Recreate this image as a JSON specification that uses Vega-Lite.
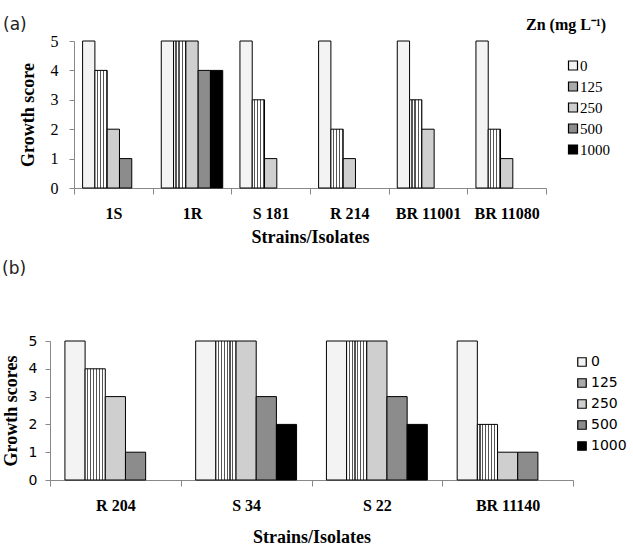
{
  "$schema": "https://vega.github.io/schema/vega-lite/v6.json",
  "background": "white",
  "padding": {"left": 2, "top": 16, "right": 5, "bottom": 5},
  "config": {"view": {"stroke": null}},
  "datasets": {
    "a": [
      {"strain": "1S", "zn": "0", "score": 5},
      {"strain": "1S", "zn": "125", "score": 4},
      {"strain": "1S", "zn": "250", "score": 2},
      {"strain": "1S", "zn": "500", "score": 1},
      {"strain": "1R", "zn": "0", "score": 5},
      {"strain": "1R", "zn": "125", "score": 5},
      {"strain": "1R", "zn": "250", "score": 5},
      {"strain": "1R", "zn": "500", "score": 4},
      {"strain": "1R", "zn": "1000", "score": 4},
      {"strain": "S 181", "zn": "0", "score": 5},
      {"strain": "S 181", "zn": "125", "score": 3},
      {"strain": "S 181", "zn": "250", "score": 1},
      {"strain": "R 214", "zn": "0", "score": 5},
      {"strain": "R 214", "zn": "125", "score": 2},
      {"strain": "R 214", "zn": "250", "score": 1},
      {"strain": "BR 11001", "zn": "0", "score": 5},
      {"strain": "BR 11001", "zn": "125", "score": 3},
      {"strain": "BR 11001", "zn": "250", "score": 2},
      {"strain": "BR 11080", "zn": "0", "score": 5},
      {"strain": "BR 11080", "zn": "125", "score": 2},
      {"strain": "BR 11080", "zn": "250", "score": 1}
    ],
    "b": [
      {"strain": "R 204", "zn": "0", "score": 5},
      {"strain": "R 204", "zn": "125", "score": 4},
      {"strain": "R 204", "zn": "250", "score": 3},
      {"strain": "R 204", "zn": "500", "score": 1},
      {"strain": "S 34", "zn": "0", "score": 5},
      {"strain": "S 34", "zn": "125", "score": 5},
      {"strain": "S 34", "zn": "250", "score": 5},
      {"strain": "S 34", "zn": "500", "score": 3},
      {"strain": "S 34", "zn": "1000", "score": 2},
      {"strain": "S 22", "zn": "0", "score": 5},
      {"strain": "S 22", "zn": "125", "score": 5},
      {"strain": "S 22", "zn": "250", "score": 5},
      {"strain": "S 22", "zn": "500", "score": 3},
      {"strain": "S 22", "zn": "1000", "score": 2},
      {"strain": "BR 11140", "zn": "0", "score": 5},
      {"strain": "BR 11140", "zn": "125", "score": 2},
      {"strain": "BR 11140", "zn": "250", "score": 1},
      {"strain": "BR 11140", "zn": "500", "score": 1}
    ]
  },
  "concat": [
    {
      "data": {"name": "a"},
      "width": 472,
      "height": 147,
      "title": {"text": "(a)", "anchor": "start", "frame": "bounds", "font": "DejaVu Sans", "fontSize": 17, "fontWeight": "normal", "color": "#222", "dx": -16, "offset": -17},
      "mark": {"type": "bar", "stroke": "black", "strokeWidth": 1},
      "encoding": {
        "x": {
          "field": "strain", "type": "nominal", "sort": null,
          "scale": {"paddingInner": 0, "paddingOuter": 0},
          "axis": {"title": "Strains/Isolates", "titleFont": "Liberation Serif", "titleFontSize": 18, "titleFontWeight": "bold", "titleColor": "black", "titlePadding": 7,
                   "labelFont": "Liberation Serif", "labelFontSize": 16, "labelFontWeight": "bold", "labelColor": "black", "labelAngle": 0, "labelPadding": 11,
                   "tickBand": "extent", "tickSize": 6, "tickColor": "#888", "domainColor": "#888"}
        },
        "xOffset": {"field": "zn", "type": "nominal", "scale": {"domain": ["0", "125", "250", "500", "1000"], "paddingInner": 0, "paddingOuter": 0.7}},
        "y": {
          "field": "score", "type": "quantitative",
          "scale": {"domain": [0, 5]},
          "axis": {"title": "Growth score", "titleFont": "Liberation Serif", "titleFontSize": 18, "titleFontWeight": "bold", "titleColor": "black", "titlePadding": 13,
                   "labelFont": "Liberation Serif", "labelFontSize": 16, "labelColor": "black", "labelPadding": 11,
                   "values": [0, 1, 2, 3, 4, 5], "domain": true, "domainColor": "#888", "ticks": true, "tickSize": 5, "tickColor": "#888", "grid": false}
        },
        "fill": {
          "condition": {"test": "datum.zn === '125'", "value": {"gradient": "linear", "x1": 0, "y1": 0, "x2": 1, "y2": 0, "stops": [
                                {"offset": 0, "color": "white"}, {"offset": 0.15, "color": "white"}, {"offset": 0.15, "color": "#555"}, {"offset": 0.25, "color": "#555"}, {"offset": 0.25, "color": "white"},
                                {"offset": 0.4, "color": "white"}, {"offset": 0.4, "color": "#555"}, {"offset": 0.5, "color": "#555"}, {"offset": 0.5, "color": "white"},
                                {"offset": 0.65, "color": "white"}, {"offset": 0.65, "color": "#555"}, {"offset": 0.75, "color": "#555"}, {"offset": 0.75, "color": "white"},
                                {"offset": 0.9, "color": "white"}, {"offset": 0.9, "color": "#555"}, {"offset": 1, "color": "#555"}]}},
          "field": "zn", "type": "nominal",
          "scale": {"domain": ["0", "125", "250", "500", "1000"], "range": ["#f3f3f3", "#aaaaaa", "#cfcfcf", "#8c8c8c", "black"]},
          "legend": {"title": "Zn (mg L⁻¹)", "orient": "none", "legendX": 452, "legendY": -24,
                     "titleFont": "Liberation Serif", "titleFontSize": 16, "titleFontWeight": "bold", "titleColor": "black", "titlePadding": 25,
                     "labelFont": "Liberation Serif", "labelFontSize": 15, "labelColor": "black", "labelOffset": 39,
                     "symbolType": "square", "symbolSize": 81, "symbolStrokeColor": "black", "symbolStrokeWidth": 1.2, "rowPadding": 5,
                     "encode": {"symbols": {"update": {"x": {"value": 47}}}}}
        }
      }
    },
    {
      "data": {"name": "b"},
      "width": 499,
      "height": 139,
      "title": {"text": "(b)", "anchor": "start", "frame": "bounds", "font": "DejaVu Sans", "fontSize": 17, "fontWeight": "normal", "color": "#222", "offset": 56},
      "mark": {"type": "bar", "stroke": "black", "strokeWidth": 1},
      "encoding": {
        "x": {
          "field": "strain", "type": "nominal", "sort": null,
          "scale": {"paddingInner": 0, "paddingOuter": 0, "range": [-24, 499]},
          "axis": {"title": "Strains/Isolates", "titleFont": "Liberation Serif", "titleFontSize": 18, "titleFontWeight": "bold", "titleColor": "black", "titlePadding": 15,
                   "labelFont": "Liberation Serif", "labelFontSize": 16, "labelFontWeight": "bold", "labelColor": "black", "labelAngle": 0, "labelPadding": 11,
                   "tickBand": "extent", "tickSize": 6, "tickColor": "#888", "domainColor": "#888"}
        },
        "xOffset": {"field": "zn", "type": "nominal", "scale": {"domain": ["0", "125", "250", "500", "1000"], "paddingInner": 0, "paddingOuter": 0.74}},
        "y": {
          "field": "score", "type": "quantitative",
          "scale": {"domain": [0, 5]},
          "axis": {"title": "Growth scores", "titleFont": "Liberation Serif", "titleFontSize": 18, "titleFontWeight": "bold", "titleColor": "black", "titlePadding": 8,
                   "labelFont": "DejaVu Sans", "labelFontSize": 14, "labelColor": "black", "labelPadding": 8, "offset": 24,
                   "values": [0, 1, 2, 3, 4, 5], "domain": true, "domainColor": "#888", "ticks": true, "tickSize": 5, "tickColor": "#888", "grid": false}
        },
        "fill": {
          "condition": {"test": "datum.zn === '125'", "value": {"gradient": "linear", "x1": 0, "y1": 0, "x2": 1, "y2": 0, "stops": [
                                {"offset": 0, "color": "white"}, {"offset": 0.1, "color": "white"}, {"offset": 0.1, "color": "#555"}, {"offset": 0.157, "color": "#555"}, {"offset": 0.157, "color": "white"},
                                {"offset": 0.243, "color": "white"}, {"offset": 0.243, "color": "#555"}, {"offset": 0.3, "color": "#555"}, {"offset": 0.3, "color": "white"},
                                {"offset": 0.386, "color": "white"}, {"offset": 0.386, "color": "#555"}, {"offset": 0.443, "color": "#555"}, {"offset": 0.443, "color": "white"},
                                {"offset": 0.529, "color": "white"}, {"offset": 0.529, "color": "#555"}, {"offset": 0.586, "color": "#555"}, {"offset": 0.586, "color": "white"},
                                {"offset": 0.671, "color": "white"}, {"offset": 0.671, "color": "#555"}, {"offset": 0.729, "color": "#555"}, {"offset": 0.729, "color": "white"},
                                {"offset": 0.814, "color": "white"}, {"offset": 0.814, "color": "#555"}, {"offset": 0.871, "color": "#555"}, {"offset": 0.871, "color": "white"},
                                {"offset": 1, "color": "white"}]}},
          "field": "zn", "type": "nominal",
          "scale": {"domain": ["0", "125", "250", "500", "1000"], "range": ["#f3f3f3", "#aaaaaa", "#cfcfcf", "#8c8c8c", "black"]},
          "legend": {"title": null, "orient": "none", "legendX": 501, "legendY": 14,
                     "labelFont": "DejaVu Sans", "labelFontSize": 14, "labelColor": "black", "labelOffset": 2,
                     "symbolType": "square", "symbolSize": 72, "symbolStrokeColor": "black", "symbolStrokeWidth": 1.2, "rowPadding": 7}
        }
      }
    }
  ],
  "columns": 1,
  "align": "none",
  "spacing": 14,
  "resolve": {"scale": {"fill": "independent", "x": "independent", "xOffset": "independent"}, "legend": {"fill": "independent"}}
}
